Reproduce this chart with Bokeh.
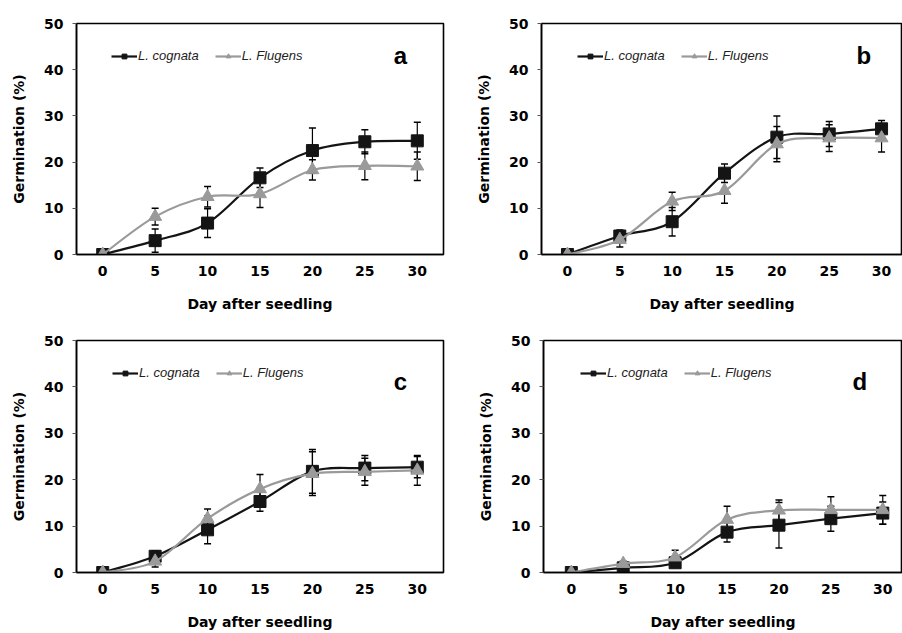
import numpy as np
from bokeh.plotting import figure
from bokeh.models import (ColumnDataSource, Range1d, Whisker, TeeHead, Legend,
                          LegendItem, Label, FixedTicker)
from bokeh.layouts import column, row
from bokeh.embed import file_html
from bokeh.resources import INLINE

# ---------------- data ----------------
days = [0, 5, 10, 15, 20, 25, 30]
y_ticks = [0, 10, 20, 30, 40, 50]
series_names = ["L. cognata", "L. Flugens"]
panel_letters = ["a", "b", "c", "d"]
x_title = "Day after seedling"
y_title = "Germination (%)"

a_cognata = [0, 3.0, 6.8, 16.6, 22.5, 24.4, 24.6]
a_cognata_err = [0, 2.5, 3.1, 2.1, 4.9, 2.6, 4.0]
a_flugens = [0, 8.2, 12.5, 13.1, 18.3, 19.2, 19.1]
a_flugens_err = [0, 1.8, 2.2, 2.9, 2.2, 3.0, 3.1]

b_cognata = [0, 4.0, 7.1, 17.6, 25.4, 26.1, 27.2]
b_cognata_err = [0, 1.3, 3.1, 2.0, 4.6, 2.7, 1.8]
b_flugens = [0, 3.2, 11.5, 13.8, 23.9, 25.2, 25.2]
b_flugens_err = [0, 1.6, 2.0, 2.7, 3.8, 2.9, 3.0]

c_cognata = [0, 3.5, 9.2, 15.3, 21.8, 22.5, 22.7]
c_cognata_err = [0, 1.2, 3.0, 2.1, 4.7, 2.7, 2.3]
c_flugens = [0, 2.4, 11.6, 18.0, 21.3, 21.7, 22.0]
c_flugens_err = [0, 1.2, 2.1, 3.1, 4.7, 2.9, 3.2]

d_cognata = [0, 1.0, 2.1, 8.7, 10.2, 11.6, 12.8]
d_cognata_err = [0, 0.5, 1.0, 2.1, 4.9, 2.7, 2.4]
d_flugens = [0, 1.9, 3.3, 11.4, 13.4, 13.5, 13.5]
d_flugens_err = [0, 0.5, 1.5, 2.9, 2.2, 2.8, 3.1]

panel_data = [
    (a_cognata, a_cognata_err, a_flugens, a_flugens_err),
    (b_cognata, b_cognata_err, b_flugens, b_flugens_err),
    (c_cognata, c_cognata_err, c_flugens, c_flugens_err),
    (d_cognata, d_cognata_err, d_flugens, d_flugens_err),
]

# ---------------- styling ----------------
BLACK = "#141414"
GRAY = "#9a9a9a"
AX_FONT = "DejaVu Sans"
LEG_FONT = "Liberation Sans"


def smooth_segments(x, y, t=1.0 / 6.0):
    """Bezier control points (Catmull-Rom style, like a smoothed spreadsheet line)."""
    x = np.asarray(x, float)
    y = np.asarray(y, float)
    n = len(x)
    xp = np.concatenate([[x[0]], x, [x[-1]]])
    yp = np.concatenate([[y[0]], y, [y[-1]]])
    cx0 = x[:-1] + (xp[2:n + 1] - xp[0:n - 1]) * t
    cy0 = y[:-1] + (yp[2:n + 1] - yp[0:n - 1]) * t
    cx1 = x[1:] - (xp[3:n + 2] - xp[1:n]) * t
    cy1 = y[1:] - (yp[3:n + 2] - yp[1:n]) * t
    return dict(x0=x[:-1], y0=y[:-1], x1=x[1:], y1=y[1:],
                cx0=cx0, cy0=cy0, cx1=cx1, cy1=cy1)


def make_panel(idx, width, height, b_left, b_right, b_top, b_bottom, x_rng,
               legend_loc, letter_pos):
    cog, cog_err, flu, flu_err = panel_data[idx]
    p = figure(width=width, height=height, output_backend="svg",
               toolbar_location=None,
               x_range=Range1d(*x_rng), y_range=Range1d(0, 50),
               min_border_left=b_left, min_border_right=b_right,
               min_border_top=b_top, min_border_bottom=b_bottom)
    p.grid.visible = False
    p.outline_line_color = "black"
    p.outline_line_width = 1.6
    p.background_fill_color = "white"
    p.border_fill_color = "white"

    # axes
    p.xaxis.ticker = FixedTicker(ticks=days)
    p.yaxis.ticker = FixedTicker(ticks=y_ticks)
    p.xaxis.minor_tick_line_color = None
    p.yaxis.minor_tick_line_color = None
    p.xaxis.major_tick_out = 0
    p.xaxis.major_tick_in = 0
    p.yaxis.major_tick_out = 4
    p.yaxis.major_tick_in = 0
    for ax in (p.xaxis, p.yaxis):
        ax.axis_line_color = "black"
        ax.axis_line_width = 1.5
        ax.major_tick_line_color = "#555555"
        ax.major_label_text_font = AX_FONT
        ax.major_label_text_font_style = "bold"
        ax.major_label_text_font_size = "14px"
        ax.major_label_text_color = "black"
        ax.axis_label_text_font = AX_FONT
        ax.axis_label_text_font_style = "bold"
        ax.axis_label_text_font_size = "14px"
        ax.axis_label_text_color = "black"
    p.xaxis.axis_label = x_title
    p.yaxis.axis_label = y_title
    p.xaxis.major_label_standoff = 11
    p.xaxis.axis_label_standoff = 17
    p.yaxis.major_label_standoff = 9
    p.yaxis.axis_label_standoff = 14

    legend_items = []
    specs = [
        (cog, cog_err, BLACK, "square", 12, series_names[0]),
        (flu, flu_err, GRAY, "triangle", 13, series_names[1]),
    ]
    for vals, errs, color, marker, size, name in specs:
        seg = ColumnDataSource(smooth_segments(days, vals))
        line_r = p.bezier(x0="x0", y0="y0", x1="x1", y1="y1",
                          cx0="cx0", cy0="cy0", cx1="cx1", cy1="cy1",
                          source=seg, line_color=color, line_width=2.2)
        pts = ColumnDataSource(dict(x=days, y=vals))
        sc = p.scatter("x", "y", source=pts, marker=marker, size=size,
                       fill_color=color, line_color=color)
        ex = [d for d, e in zip(days, errs) if e > 0]
        ey = [v for v, e in zip(vals, errs) if e > 0]
        ee = [e for e in errs if e > 0]
        esrc = ColumnDataSource(dict(
            x=ex,
            upper=[v + e for v, e in zip(ey, ee)],
            lower=[v - e for v, e in zip(ey, ee)]))
        w = Whisker(source=esrc, base="x", upper="upper", lower="lower",
                    line_color="black", line_width=1.2,
                    upper_head=TeeHead(size=7, line_color="black", line_width=1.5),
                    lower_head=TeeHead(size=7, line_color="black", line_width=1.5))
        p.add_layout(w)
        legend_items.append(LegendItem(label=name, renderers=[line_r, sc]))

    legend = Legend(items=legend_items, orientation="horizontal",
                    location=legend_loc, padding=0, margin=0, spacing=16,
                    glyph_width=26, glyph_height=12, label_height=12,
                    label_standoff=1, border_line_color=None,
                    background_fill_alpha=0,
                    label_text_font=LEG_FONT, label_text_font_style="italic",
                    label_text_font_size="13px", label_text_color="#222222")
    p.add_layout(legend, "center")

    p.add_layout(Label(x=letter_pos[0], y=letter_pos[1], text=panel_letters[idx],
                       text_font=LEG_FONT, text_font_style="bold",
                       text_font_size="24px", text_align="center",
                       text_baseline="middle", text_color="black"))
    return p


pa = make_panel(0, 451, 316, 76, 8, 23, 62, (-2.5, 32.5), (35, 191), (28.4, 43.1))
pb = make_panel(1, 451, 316, 90, 0, 23, 62, (-2.48, 32.0), (36, 191), (28.3, 43.1))
pc = make_panel(2, 451, 316, 76, 8, 24, 60, (-2.5, 32.5), (36, 192), (28.4, 41.2))
pd = make_panel(3, 451, 316, 92, 0, 24, 60, (-2.68, 31.9), (37, 192), (27.8, 41.2))

layout = column(row(pa, pb), row(pc, pd))
open("out.html", "w").write(file_html(layout, INLINE))
